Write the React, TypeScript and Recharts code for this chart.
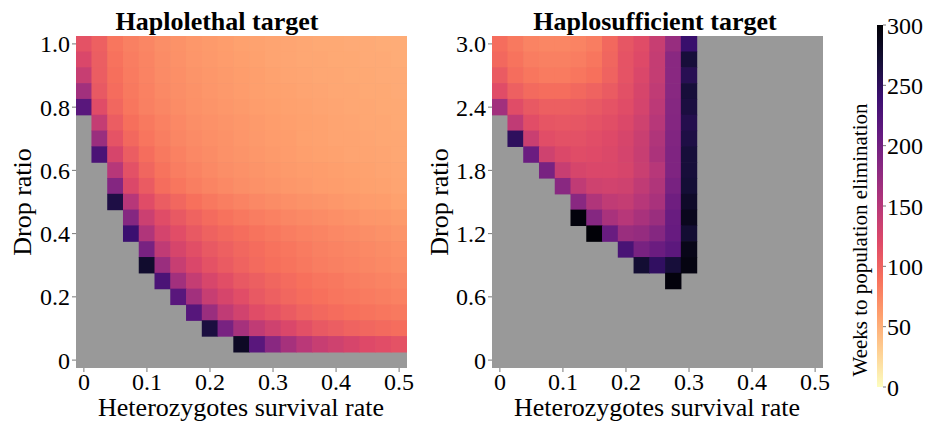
import React from 'react';
import { ScatterChart, Scatter, XAxis, YAxis, CartesianGrid, BarChart, Bar } from 'recharts';

const _ = null;

// heterozygote survival rate, one per column
const survivalRates = [0, 0.025, 0.05, 0.075, 0.1, 0.125, 0.15, 0.175, 0.2, 0.225, 0.25, 0.275, 0.3, 0.325, 0.35, 0.375, 0.4, 0.425, 0.45, 0.475, 0.5];

// drop ratio, one per row (top row first)
const lethalDrop = [1.0, 0.95, 0.9, 0.85, 0.8, 0.75, 0.7, 0.65, 0.6, 0.55, 0.5, 0.45, 0.4, 0.35, 0.3, 0.25, 0.2, 0.15, 0.1, 0.05, 0];
const sufficientDrop = [3.0, 2.85, 2.7, 2.55, 2.4, 2.25, 2.1, 1.95, 1.8, 1.65, 1.5, 1.35, 1.2, 1.05, 0.9, 0.75, 0.6, 0.45, 0.3, 0.15, 0];

const xTicks = [0, 0.1, 0.2, 0.3, 0.4, 0.5];
const lethalYTicks = [0, 0.2, 0.4, 0.6, 0.8, 1.0];
const sufficientYTicks = [0, 0.6, 1.2, 1.8, 2.4, 3.0];
const colorbarTicks = [0, 50, 100, 150, 200, 250, 300];
const colorbarMax = [{ name: 'weeks', value: 300 }];

// weeks to elimination, null = not eliminated (grey)
const lethalWeeks = [
  [113, 102, 86, 80, 76, 71, 68, 65, 63, 61, 59, 58, 57, 56, 55, 54, 54, 53, 53, 52, 52],
  [123, 104, 89, 82, 77, 72, 69, 66, 64, 62, 60, 59, 57, 56, 55, 55, 54, 54, 53, 53, 52],
  [138, 105, 91, 83, 78, 73, 70, 67, 65, 63, 61, 60, 58, 57, 56, 55, 55, 54, 54, 53, 53],
  [165, 108, 93, 84, 79, 74, 71, 68, 66, 64, 62, 60, 59, 58, 57, 56, 55, 55, 54, 54, 53],
  [218, 118, 97, 86, 80, 76, 72, 69, 67, 65, 63, 61, 60, 59, 58, 57, 56, 55, 55, 54, 54],
  [_, 140, 105, 91, 84, 79, 75, 71, 69, 67, 65, 63, 61, 60, 59, 58, 57, 56, 55, 55, 54],
  [_, 170, 112, 96, 87, 81, 76, 73, 70, 68, 66, 64, 62, 61, 59, 58, 57, 57, 56, 55, 55],
  [_, 228, 126, 105, 92, 84, 79, 75, 72, 69, 67, 65, 63, 62, 60, 59, 58, 57, 57, 56, 55],
  [_, _, 150, 114, 98, 88, 82, 78, 74, 71, 69, 67, 65, 63, 62, 61, 60, 59, 58, 57, 56],
  [_, _, 186, 122, 106, 92, 86, 81, 77, 74, 71, 69, 67, 65, 64, 62, 61, 60, 59, 58, 57],
  [_, _, 262, 150, 118, 105, 97, 90, 85, 81, 78, 75, 72, 70, 68, 67, 65, 63, 62, 61, 59],
  [_, _, _, 185, 135, 118, 108, 100, 94, 89, 85, 82, 79, 76, 74, 72, 70, 68, 66, 65, 63],
  [_, _, _, 240, 155, 128, 117, 108, 101, 96, 92, 88, 85, 82, 79, 77, 75, 73, 71, 69, 67],
  [_, _, _, _, 195, 143, 126, 116, 108, 102, 97, 93, 89, 86, 83, 80, 78, 76, 74, 72, 70],
  [_, _, _, _, 275, 170, 138, 123, 113, 106, 100, 95, 91, 88, 85, 82, 80, 78, 76, 74, 72],
  [_, _, _, _, _, 228, 165, 140, 125, 116, 108, 103, 98, 94, 90, 87, 85, 82, 80, 78, 76],
  [_, _, _, _, _, _, 218, 165, 138, 126, 117, 108, 102, 97, 93, 90, 87, 85, 83, 81, 79],
  [_, _, _, _, _, _, _, 220, 170, 143, 130, 118, 112, 106, 100, 96, 93, 90, 88, 86, 84],
  [_, _, _, _, _, _, _, _, 265, 195, 162, 143, 132, 123, 115, 108, 104, 100, 97, 95, 92],
  [_, _, _, _, _, _, _, _, _, _, 280, 218, 182, 162, 148, 138, 132, 126, 120, 117, 113],
  [],
];

// columns beyond 0.3 are all grey
const sufficientWeeks = [
  [92, 84, 78, 76, 76, 78, 82, 96, 110, 118, 138, 172, 242],
  [96, 88, 82, 80, 80, 82, 86, 98, 112, 120, 140, 182, 268],
  [106, 92, 86, 83, 83, 86, 90, 100, 112, 123, 140, 182, 255],
  [118, 102, 95, 92, 92, 96, 100, 106, 115, 126, 143, 183, 268],
  [165, 118, 108, 103, 103, 105, 108, 112, 118, 128, 146, 185, 265],
  [_, 143, 117, 111, 109, 110, 113, 116, 122, 132, 150, 186, 258],
  [_, 250, 136, 117, 114, 114, 117, 120, 126, 136, 155, 188, 262],
  [_, _, 205, 132, 122, 118, 119, 122, 128, 138, 158, 190, 268],
  [_, _, _, 195, 138, 126, 123, 123, 126, 136, 150, 190, 268],
  [_, _, _, _, 182, 143, 132, 130, 132, 143, 155, 195, 270],
  [_, _, _, _, _, 182, 155, 143, 140, 150, 160, 202, 278],
  [_, _, _, _, _, 295, 185, 160, 150, 160, 170, 206, 285],
  [_, _, _, _, _, _, 298, 206, 170, 174, 185, 208, 272],
  [_, _, _, _, _, _, _, _, 230, 195, 205, 216, 288],
  [_, _, _, _, _, _, _, _, _, 272, 248, 268, 292],
  [_, _, _, _, _, _, _, _, _, _, _, 295, _],
  [],
  [],
  [],
  [],
  [],
];

const MAGMA = ['#000004', '#140e36', '#3b0f70', '#641a80', '#8c2981', '#b73779', '#de4968', '#f7705c', '#fe9f6d', '#fecf92', '#fcfdbf'];

function hex(c: string) {
  return [1, 3, 5].map((i) => parseInt(c.slice(i, i + 2), 16));
}

function weeksColor(v: number) {
  const t = Math.max(0, Math.min(1, 1 - v / 300)) * 10;
  const i = Math.min(9, Math.floor(t));
  const f = t - i;
  const a = hex(MAGMA[i]);
  const b = hex(MAGMA[i + 1]);
  const m = a.map((ch, k) => Math.round(ch + (b[k] - ch) * f));
  return `rgb(${m[0]},${m[1]},${m[2]})`;
}

function toPoints(weeks: (number | null)[][], drops: number[]) {
  const pts: { x: number; y: number; weeks: number }[] = [];
  weeks.forEach((row, r) =>
    row.forEach((w, c) => {
      if (w != null) pts.push({ x: survivalRates[c], y: drops[r], weeks: w });
    })
  );
  return pts;
}

const FONT = '"Liberation Serif", "DejaVu Serif", serif';
const CHART_W = 420;
const CHART_H = 423;
const MARGIN = { top: 36, right: 13, bottom: 0, left: 0 };
const Y_W = 76;
const X_H = 55;
const PLOT_W = CHART_W - MARGIN.left - MARGIN.right - Y_W;
const PLOT_H = CHART_H - MARGIN.top - X_H;
const CELL_W = PLOT_W / 21;
const CELL_H = PLOT_H / 21;

const cellShape = (props: any) => {
  const { cx, cy, payload } = props;
  return (
    <rect
      x={cx - CELL_W / 2 - 0.3}
      y={cy - CELL_H / 2 - 0.3}
      width={CELL_W + 0.6}
      height={CELL_H + 0.6}
      fill={weeksColor(payload.weeks)}
    />
  );
};

const fmt = (v: number) => (v === 0 ? '0' : v.toFixed(1));
const tickStyle = { fontSize: 24, fill: '#000', fontFamily: FONT };

function Heatmap({ weeks, drops, yTicks, yMax, left }: { weeks: (number | null)[][]; drops: number[]; yTicks: number[]; yMax: number; left: number }) {
  const half = yMax / 40;
  return (
    <div style={{ position: 'absolute', left, top: 0 }}>
      <ScatterChart width={CHART_W} height={CHART_H} margin={MARGIN}>
        <CartesianGrid fill="#999999" horizontal={false} vertical={false} />
        <XAxis
          type="number"
          dataKey="x"
          domain={[-0.0125, 0.5125]}
          ticks={xTicks}
          interval={0}
          allowDataOverflow
          height={X_H}
          tickFormatter={fmt}
          tick={tickStyle}
          tickSize={4}
          tickMargin={1}
          tickLine={{ stroke: '#777' }}
          axisLine={false}
        />
        <YAxis
          type="number"
          dataKey="y"
          domain={[-half, yMax + half]}
          ticks={yTicks}
          interval={0}
          allowDataOverflow
          width={Y_W}
          tickFormatter={fmt}
          tick={tickStyle}
          tickSize={4}
          tickMargin={2}
          tickLine={{ stroke: '#777' }}
          axisLine={false}
        />
        <Scatter data={toPoints(weeks, drops)} shape={cellShape} isAnimationActive={false} />
      </ScatterChart>
    </div>
  );
}

function Colorbar() {
  return (
    <div style={{ position: 'absolute', left: 860, top: 0 }}>
      <BarChart width={65} height={CHART_H} margin={{ top: 25, right: 0, bottom: 36, left: 17 }} data={colorbarMax} barCategoryGap={0}>
        <defs>
          <linearGradient id="magma" x1="0" y1="0" x2="0" y2="1">
            {MAGMA.map((c, i) => (
              <stop key={i} offset={`${i * 10}%`} stopColor={c} />
            ))}
          </linearGradient>
        </defs>
        <XAxis dataKey="name" hide />
        <YAxis
          orientation="right"
          type="number"
          domain={[0, 300]}
          ticks={colorbarTicks}
          interval={0}
          width={42}
          tick={tickStyle}
          tickSize={3}
          tickMargin={1}
          tickLine={{ stroke: '#777' }}
          axisLine={false}
        />
        <Bar dataKey="value" fill="url(#magma)" isAnimationActive={false} />
      </BarChart>
    </div>
  );
}

const textBase: React.CSSProperties = { position: 'absolute', fontFamily: FONT, color: '#000', whiteSpace: 'nowrap', lineHeight: 1 };

function Text({ x, y, size, bold, rotate, children }: { x: number; y: number; size: number; bold?: boolean; rotate?: boolean; children: React.ReactNode }) {
  return (
    <div
      style={{
        ...textBase,
        left: x,
        top: y,
        fontSize: size,
        fontWeight: bold ? 'bold' : 'normal',
        transform: `translate(-50%, -50%)${rotate ? ' rotate(-90deg)' : ''}`,
      }}
    >
      {children}
    </div>
  );
}

export default function App() {
  return (
    <div style={{ position: 'absolute', left: 0, top: 0, width: 925, height: 423, background: '#fff', overflow: 'hidden' }}>
      <Heatmap weeks={lethalWeeks} drops={lethalDrop} yTicks={lethalYTicks} yMax={1} left={0} />
      <Heatmap weeks={sufficientWeeks} drops={sufficientDrop} yTicks={sufficientYTicks} yMax={3} left={416} />
      <Colorbar />
      <Text x={217} y={22} size={26} bold>Haplolethal target</Text>
      <Text x={655} y={22} size={26} bold>Haplosufficient target</Text>
      <Text x={23} y={202} size={26} rotate>Drop ratio</Text>
      <Text x={440} y={202} size={26} rotate>Drop ratio</Text>
      <Text x={241} y={408} size={26}>Heterozygotes survival rate</Text>
      <Text x={657} y={408} size={26}>Heterozygotes survival rate</Text>
      <Text x={860} y={240} size={21} rotate>Weeks to population elimination</Text>
    </div>
  );
}
